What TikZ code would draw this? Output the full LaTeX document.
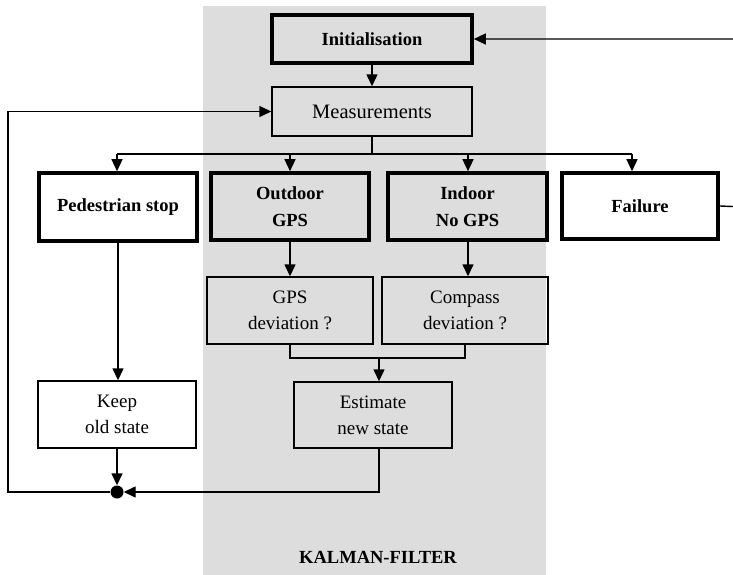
\documentclass[tikz,border=0pt]{standalone}
\usepackage{fontspec}
\setmainfont{Liberation Serif}
\usetikzlibrary{arrows.meta}

\definecolor{kalmangrey}{HTML}{DDDDDD}

\tikzset{
  box/.style={draw=black, line width=1.4pt, inner sep=0pt, align=center,
              font=\fontsize{19}{26}\selectfont},
  boldbox/.style={box, line width=3.6pt, font=\fontsize{18.5}{27}\selectfont\bfseries},
  arr/.style={line width=1.4pt, -{Triangle[width=11pt,length=12pt]}},
  link/.style={line width=1.4pt},
}

\begin{document}
\begin{tikzpicture}[x=1pt, y=-1pt]
  \clip (0,0) rectangle (733,575);
  \fill[white] (0,0) rectangle (733,575);

  % Kalman filter region
  \fill[kalmangrey] (203,6) rectangle (546,580);
  \node[font=\fontsize{18.5}{22}\selectfont\bfseries] (kf) at (378,557) {KALMAN-FILTER};

  % boxes
  \node[boldbox, minimum width=200pt, minimum height=48pt] (init) at (372,39) {Initialisation};
  \node[box, minimum width=200pt, minimum height=49pt, font=\fontsize{20.5}{24}\selectfont] (meas) at (372,111.5) {Measurements};

  \node[boldbox, fill=white, minimum width=158pt, minimum height=68pt] (ped) at (118,207) {Pedestrian stop};
  \node[boldbox, minimum width=158pt, minimum height=67pt] (out) at (290,206.5) {Outdoor\\GPS};
  \node[boldbox, minimum width=159pt, minimum height=67pt] (ind) at (467.5,206.5) {Indoor\\No GPS};
  \node[boldbox, fill=white, minimum width=156pt, minimum height=66pt] (fail) at (640,206) {Failure};

  \node[box, minimum width=166pt, minimum height=67pt] (gps) at (290,310.5) {GPS\\deviation ?};
  \node[box, minimum width=166pt, minimum height=67pt] (comp) at (465,310.5) {Compass\\deviation ?};
  \node[box, minimum width=158pt, minimum height=66pt] (est) at (373,415) {Estimate\\new state};
  \node[box, fill=white, minimum width=158pt, minimum height=67pt] (keep) at (117,414.5) {Keep\\old state};

  \node[circle, fill=black, inner sep=0pt, minimum size=13pt] (dot) at (117,492) {};

  % junction coordinates
  \coordinate (bus) at (372,154);
  \coordinate (b1) at (117,154);
  \coordinate (b2) at (290,154);
  \coordinate (b3) at (468,154);
  \coordinate (b4) at (632,154);
  \coordinate (mg) at (379,358);
  \coordinate (lc) at (8,492);
  \coordinate (rc) at (745,207);

  % connectors
  \draw[arr] (init.south) -- (meas.north);
  \draw[link] (meas.south) -- (bus);
  \draw[link] (b1) -- (b4);
  \draw[arr] (b1) -- (b1 |- ped.north);
  \draw[arr] (b2) -- (b2 |- out.north);
  \draw[arr] (b3) -- (b3 |- ind.north);
  \draw[arr] (b4) -- (b4 |- fail.north);

  \draw[arr] (out.south) -- (gps.north);
  \draw[arr] (ind.south -| b3) -- (b3 |- comp.north);
  \draw[link] (gps.south) |- (mg) -| (comp.south);
  \draw[arr] (mg) -- (mg |- est.north);

  \draw[arr] (est.south -| mg) -- (mg |- dot) -- (dot.east);
  \draw[arr] (ped.south) -- (ped.south |- keep.north);
  \draw[arr] (keep.south) -- (dot.north);
  \draw[arr] (dot.west) -- (lc) |- (meas.west);

  \draw[arr] (fail.east) -- (rc) |- (init.east);
\end{tikzpicture}
\end{document}
